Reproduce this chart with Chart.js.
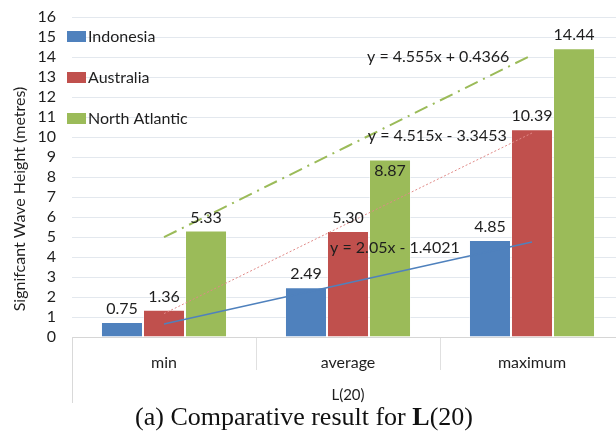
<!DOCTYPE html>
<html>
<head>
<meta charset="utf-8">
<script src="https://cdn.jsdelivr.net/npm/chart.js@4.4.0/dist/chart.umd.min.js"></script>
<style>
    html, body { margin: 0; padding: 0; background: #fff; overflow: hidden; width: 616px; height: 434px; }
    #wrap { position: absolute; left: 0; top: 0; width: 624px; height: 405px; }
    #caption {
        position: absolute; left: 0; top: 402px; width: 608px; text-align: center;
        font-family: "Liberation Serif", "Times New Roman", serif; font-size: 26px; line-height: 30px; color: #111;
    }
</style>
</head>
<body>
<div id="wrap"><canvas id="waveChart"></canvas></div>
<div id="caption">(a) Comparative result for <b>L</b>(20)</div>
<script>
// chart data
const categories = ['min', 'average', 'maximum'];
const regions = ['Indonesia', 'Australia', 'North Atlantic'];
const indonesia = [0.75, 2.49, 4.85];
const australia = [1.36, 5.30, 10.39];
const northAtlantic = [5.33, 8.87, 14.44];

// linear trend lines (at min / average / maximum)
const trendIndonesia = [0.65, 2.70, 4.75];
const trendAustralia = [1.17, 5.69, 10.20];
const trendNorthAtlantic = [4.99, 9.55, 14.10];
const trendEquations = ['y = 2.05x - 1.4021', 'y = 4.515x - 3.3453', 'y = 4.555x + 0.4366'];

const yTicks = [0, 16];
const xTitle = 'L(20)';
const yTitle = 'Signifcant Wave Height (metres)';

const BLUE = '#4f81bd';
const RED = '#c0504d';
const GREEN = '#9bbb59';
const FONT = 'Lato, "Noto Sans", sans-serif';
const TEXT = '#1e1e1e';

// value labels on top of the bars, legend, equations and the y title
const annotate = {
    id: 'annotate',
    afterDatasetsDraw(chart) {
        const c = chart.ctx;
        const area = chart.chartArea;
        const xs = chart.scales.x;
        const ys = chart.scales.y;

        c.save();
        c.fillStyle = TEXT;
        c.font = '16px ' + FONT;
        c.textAlign = 'center';
        c.textBaseline = 'middle';
        // bar values
        [0, 1, 2].forEach(di => {
            const meta = chart.getDatasetMeta(di);
            meta.data.forEach((bar, i) => {
                const v = chart.data.datasets[di].data[i];
                const inside = (di === 2 && i === 1); // 8.87 sits inside its bar
                c.fillText(v.toFixed(2), bar.x, inside ? bar.y + 11 : bar.y - 13);
            });
        });

        // trend equations, anchored in data space
        const eqPos = [[1.255, 4.45], [1.485, 10.05], [1.49, 14.0]];
        trendEquations.forEach((t, i) => {
            c.fillText(t, xs.getPixelForValue(eqPos[i][0]), ys.getPixelForValue(eqPos[i][1]));
        });

        // legend
        c.textAlign = 'left';
        [BLUE, RED, GREEN].forEach((col, i) => {
            const y = area.top + 20 + i * 41;
            c.fillStyle = col;
            c.fillRect(area.left - 5, y - 6, 19, 11);
            c.fillStyle = TEXT;
            c.fillText(regions[i], area.left + 16, y);
        });

        // y axis title
        c.translate(20, 199);
        c.rotate(-Math.PI / 2);
        c.textAlign = 'center';
        c.font = '16px ' + FONT;
        c.fillText(yTitle, 0, 0);
        c.restore();

        // left axis line that runs down past the category labels
        c.save();
        c.strokeStyle = '#d9d9d9';
        c.lineWidth = 1;
        c.beginPath();
        c.moveTo(area.left + 0.5, area.bottom);
        c.lineTo(area.left + 0.5, area.bottom + 66);
        c.stroke();
        c.restore();
    }
};

const ctx = document.getElementById('waveChart').getContext('2d');

const waveChart = new Chart(ctx, {
    type: 'bar',
    data: {
        labels: categories,
        datasets: [{
            label: regions[0],
            data: indonesia,
            backgroundColor: BLUE,
            borderColor: 'rgba(255,255,255,0.45)',
            borderWidth: 1,
            order: 2
        }, {
            label: regions[1],
            data: australia,
            backgroundColor: RED,
            borderColor: 'rgba(255,255,255,0.45)',
            borderWidth: 1,
            order: 2
        }, {
            label: regions[2],
            data: northAtlantic,
            backgroundColor: GREEN,
            borderColor: 'rgba(255,255,255,0.45)',
            borderWidth: 1,
            order: 2
        }, {
            type: 'line',
            label: 'Linear (Indonesia)',
            data: trendIndonesia,
            borderColor: BLUE,
            borderWidth: 1.5,
            pointRadius: 0,
            fill: false,
            order: 1
        }, {
            type: 'line',
            label: 'Linear (Australia)',
            data: trendAustralia,
            borderColor: '#e08a88',
            borderWidth: 1,
            borderDash: [2, 2],
            pointRadius: 0,
            fill: false,
            order: 1
        }, {
            type: 'line',
            label: 'Linear (North Atlantic)',
            data: trendNorthAtlantic,
            borderColor: GREEN,
            borderWidth: 2,
            borderDash: [14, 6, 2, 6],
            pointRadius: 0,
            fill: false,
            order: 1
        }]
    },
    options: {
        responsive: true,
        maintainAspectRatio: false,
        animation: false,
        layout: { padding: { top: 17, right: 0, bottom: 0, left: 0 } },
        datasets: {
            bar: { categoryPercentage: 0.685, barPercentage: 1 }
        },
        plugins: {
            legend: { display: false },
            tooltip: { enabled: false }
        },
        scales: {
            x: {
                afterFit(scale) {
                    scale.height = 68;
                    scale.paddingLeft = 0;
                    scale.paddingRight = 0;
                },
                grid: {
                    drawOnChartArea: false,
                    color: '#e0e0e0',
                    tickLength: 33
                },
                border: { color: '#d6d6d6' },
                ticks: {
                    color: TEXT,
                    font: { family: FONT, size: 16 },
                    padding: -17
                },
                title: {
                    display: true,
                    text: xTitle,
                    color: TEXT,
                    font: { family: FONT, size: 15 },
                    padding: { top: 0, bottom: 1 }
                }
            },
            y: {
                min: yTicks[0],
                max: yTicks[1],
                afterFit(scale) {
                    scale.width = 72;
                    scale.paddingTop = 0;
                    scale.paddingBottom = 0;
                },
                grid: {
                    color: '#e3e8ee',
                    drawTicks: false
                },
                border: { display: false },
                ticks: {
                    stepSize: 1,
                    autoSkip: false,
                    color: TEXT,
                    font: { family: FONT, size: 16 },
                    padding: 16
                }
            }
        }
    },
    plugins: [annotate]
});
</script>
</body>
</html>
